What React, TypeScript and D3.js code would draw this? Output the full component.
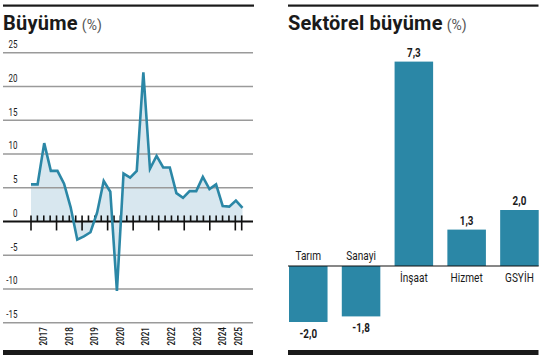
import React from 'react';
import * as d3 from 'd3';

// ---------- data ----------
const years = ['2017', '2018', '2019', '2020', '2021', '2022', '2023', '2024', '2025'];
// quarterly GDP growth, 2017Q1 .. 2025Q1
const growth = [
  5.5, 5.5, 11.6, 7.5,
  7.5, 5.6, 2.1, -2.7,
  -2.2, -1.6, 1.3, 6.0,
  4.4, -10.3, 7.1, 6.5,
  7.5, 22.1, 7.8, 9.7,
  8.0, 8.0, 4.2, 3.5,
  4.5, 4.5, 6.6, 4.8,
  5.5, 2.3, 2.2, 3.1,
  2.0,
];
const yTicks = [25, 20, 15, 10, 5, 0, -5, -10, -15];

const sectors = ['Tarım', 'Sanayi', 'İnşaat', 'Hizmet', 'GSYİH'];
const sectorValues = [-2.0, -1.8, 7.3, 1.3, 2.0];

// ---------- styles ----------
const BLUE = '#2b87a6';
const AREA = '#d8e7ef';
const GRID = '#9a9a9a';
const FONT = 'Roboto, "Noto Sans", sans-serif';

const CText = ({ x, y, anchor = 'start', size = 10, weight = 400, sx = 0.8, rotate = 0, fill = '#1a1a1a', dy = '0', children }: any) => (
  <text
    transform={`translate(${x},${y}) rotate(${rotate}) scale(${sx},1)`}
    textAnchor={anchor}
    fontSize={size}
    fontWeight={weight}
    fontFamily={FONT}
    fill={fill}
    dy={dy}
  >
    {children}
  </text>
);

export default function App() {
  // ----- left chart scales -----
  const gx0 = 3, gx1 = 253;
  const y = d3.scaleLinear().domain([-15, 25]).range([322.7, 52.7]);
  const xData = d3.scaleLinear().domain([0, growth.length - 1]).range([31, 242.5]);
  const nQuarters = growth.length; // 33 quarters -> 34 boundaries
  const xTick = d3.scaleLinear().domain([0, nQuarters]).range([31, 241.7]);

  const area = d3.area<number>().x((_, i) => xData(i)).y0(y(0)).y1((d) => y(d));
  const line = d3.line<number>().x((_, i) => xData(i)).y((d) => y(d));

  const tickIdx = d3.range(0, nQuarters + 1);

  // ----- right chart scales -----
  const xb = d3.scaleBand<string>().domain(sectors).range([289, 538.7]).paddingInner(0.27).paddingOuter(0);
  const yb = d3.scaleLinear().domain([-3, 7.3]).range([266 + 3 * 28, 266 - 7.3 * 28]);
  const fmt = (v: number) => v.toFixed(1).replace('.', ',');

  return (
    <svg width={551} height={359} style={{ position: 'absolute', left: 0, top: 0, background: '#fff' }}>
      {/* ================= LEFT ================= */}
      <rect x={3} y={4.5} width={251} height={2.2} fill="#1a1a1a" />
      <text x={3} y={30} fontFamily={FONT} fontSize={20} fontWeight={700} letterSpacing={0.25} fill="#1a1a1a">
        Büyüme
        <tspan fontSize={14} fontWeight={400} letterSpacing={0} fill="#555" dx={4}>(%)</tspan>
      </text>

      <path d={area(growth) || ''} fill={AREA} />

      {yTicks.filter((t) => t !== 0).map((t) => (
        <line key={t} x1={gx0} x2={gx1} y1={y(t)} y2={y(t)} stroke={GRID} strokeWidth={1.4} />
      ))}
      {yTicks.map((t) => (
        <CText key={'l' + t} x={17.5} y={y(t) - 4.5} anchor="end" size={10} sx={0.8}>
          {String(t)}
        </CText>
      ))}

      {/* zero axis */}
      <line x1={gx0} x2={gx1} y1={y(0)} y2={y(0)} stroke="#111" strokeWidth={2} />
      {tickIdx.map((i) => {
        const major = i % 4 === 0 || i === nQuarters;
        return (
          <line
            key={'t' + i}
            x1={xTick(i)}
            x2={xTick(i)}
            y1={y(0) - 6}
            y2={major ? y(0) + 9 : y(0)}
            stroke="#111"
            strokeWidth={1.6}
          />
        );
      })}

      <path d={line(growth) || ''} fill="none" stroke={BLUE} strokeWidth={2.6} strokeLinejoin="miter" />

      {years.map((yr, k) => {
        const a = k * 4;
        const b = Math.min(k * 4 + 4, nQuarters);
        const cx = (xTick(a) + xTick(b)) / 2;
        return (
          <CText key={yr} x={cx} y={327} anchor="end" rotate={-90} size={10} weight={500} sx={0.82} dy="0.35em">
            {yr}
          </CText>
        );
      })}

      <rect x={3} y={350} width={250} height={5} fill="#1a1a1a" />

      {/* ================= RIGHT ================= */}
      <rect x={288} y={4.5} width={250.5} height={2.2} fill="#1a1a1a" />
      <text x={288} y={30} fontFamily={FONT} fontSize={20} fontWeight={700} letterSpacing={0.2} fill="#1a1a1a">
        Sektörel büyüme
        <tspan fontSize={14} fontWeight={400} letterSpacing={0} fill="#555" dx={4}>(%)</tspan>
      </text>

      {sectors.map((s, i) => {
        const v = sectorValues[i];
        const x0 = xb(s) as number;
        const bw = xb.bandwidth();
        const top = Math.min(yb(v), yb(0));
        const h = Math.abs(yb(v) - yb(0));
        const cx = x0 + bw / 2;
        return (
          <g key={s}>
            <rect x={x0} y={top} width={bw} height={h} fill={BLUE} />
            <CText x={cx} y={v >= 0 ? yb(v) - 5 : yb(v) + 15.5} anchor="middle" size={12} weight={700} sx={0.82}>
              {fmt(v)}
            </CText>
            <CText x={cx} y={v >= 0 ? yb(0) + 16 : yb(0) - 6} anchor="middle" size={12} weight={400} sx={0.84}>
              {s}
            </CText>
          </g>
        );
      })}
      <line x1={288} x2={538.7} y1={yb(0)} y2={yb(0)} stroke="#111" strokeWidth={1.2} />

      <rect x={288} y={350} width={250.5} height={5} fill="#1a1a1a" />
    </svg>
  );
}
